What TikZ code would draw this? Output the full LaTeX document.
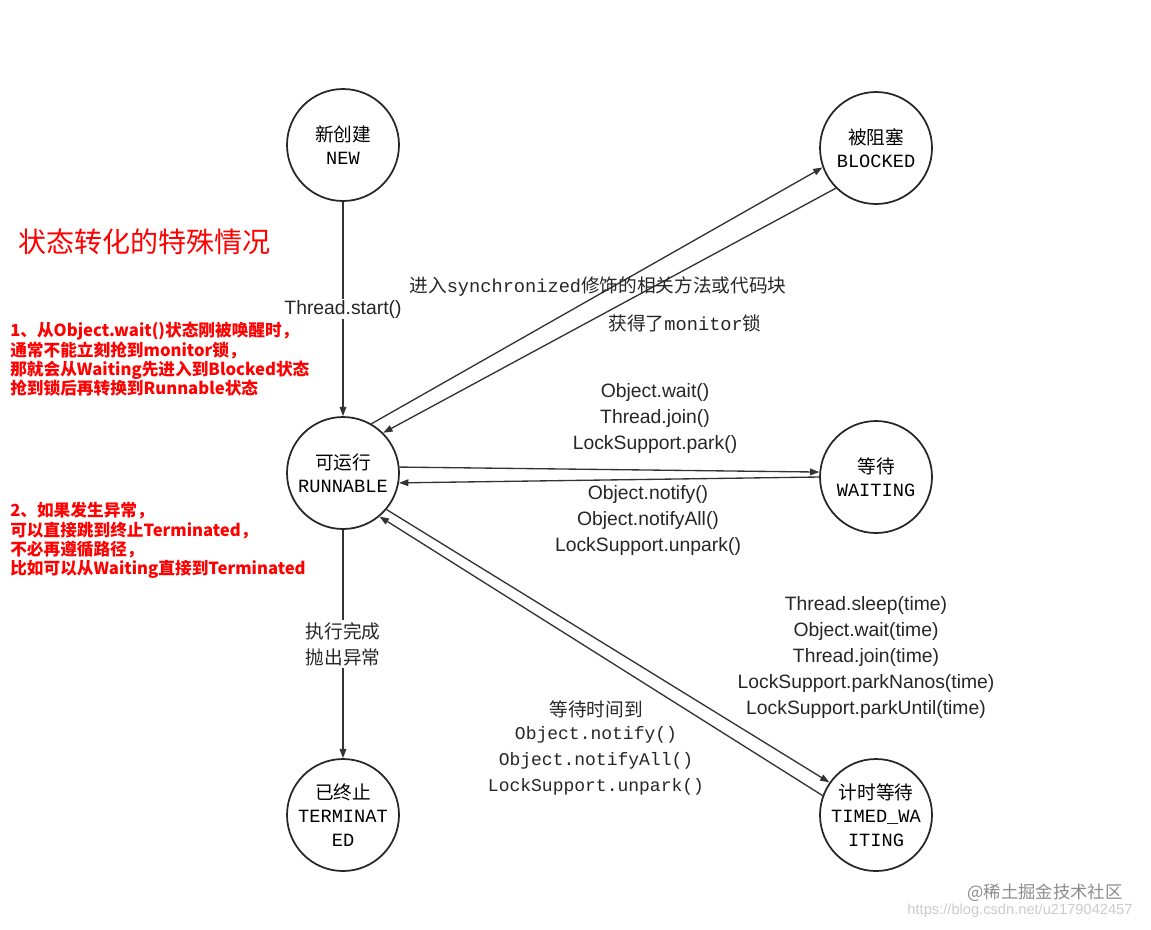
\documentclass[tikz,border=0pt]{standalone}
\usepackage{fontspec}
\setmainfont{Liberation Sans}
\newfontfamily\cjk{Noto Sans CJK SC}
\newfontfamily\mono{Liberation Mono}
\usetikzlibrary{arrows.meta}
\begin{document}
\begin{tikzpicture}[x=0.75pt,y=-0.75pt,
  st/.style={circle,draw=black!85,line width=1.3pt,minimum size=84pt,inner sep=0pt,align=center,font=\fontsize{14}{17.5}\selectfont},
  ar/.style={-{Triangle[length=7pt,width=5pt]},line width=1pt,black!80},
  lb/.style={font=\fontsize{14.5}{19.5}\selectfont,align=center,text=black!85},
  ml/.style={font=\mono\fontsize{13.5}{19.5}\selectfont,align=center,text=black!85},
  rd/.style={text=red,font=\cjk\bfseries\fontsize{12.5}{14.5}\selectfont,align=left,anchor=north west,inner sep=0pt}]
\useasboundingbox[fill=white] (0,0) rectangle (1151,929);
\node[st] (new) at (343,145) {{\cjk 新创建}\\{\mono NEW}};
\node[st] (blk) at (876,148) {{\cjk 被阻塞}\\{\mono BLOCKED}};
\node[st] (run) at (343,473) {{\cjk 可运行}\\{\mono RUNNABLE}};
\node[st] (wait) at (876,477) {{\cjk 等待}\\{\mono WAITING}};
\node[st] (term) at (343,815) {{\cjk 已终止}\\{\mono TERMINAT}\\{\mono ED}};
\node[st] (tw) at (876,815) {{\cjk 计时等待}\\{\mono TIMED\_WA}\\{\mono ITING}};
\draw[ar] (new) -- (run) node[pos=0.5,fill=white,lb,inner sep=1pt] {Thread.start()};
\draw[ar] (run.60) -- (blk.200);
\draw[ar] (blk.225) -- (run.45);
\node[lb,font=\cjk\fontsize{14}{16}\selectfont] at (598,287) {进入{\mono synchronized}修饰的相关方法或代码块};
\node[lb,font=\cjk\fontsize{14}{16}\selectfont] at (685,323) {获得了{\mono monitor}锁};
\draw[ar] (run.6) -- (wait.175);
\draw[ar] (wait.180) -- (run.350);
\node[lb] at (655,418) {Object.wait()\\Thread.join()\\LockSupport.park()};
\node[lb] at (648,520) {Object.notify()\\Object.notifyAll()\\LockSupport.unpark()};
\draw[ar] (run) -- (term) node[pos=0.5,fill=white,lb,font=\cjk\fontsize{14}{19.5}\selectfont,inner sep=2pt] {执行完成\\抛出异常};
\draw[ar] (run.-40) -- (tw.145);
\draw[ar] (tw.160) -- (run.-50);
\node[lb] at (866,657) {Thread.sleep(time)\\Object.wait(time)\\Thread.join(time)\\LockSupport.parkNanos(time)\\LockSupport.parkUntil(time)};
\node[lb,font=\cjk\fontsize{14}{19.5}\selectfont] at (596,709) {等待时间到};
\node[ml] at (596,761) {Object.notify()\\Object.notifyAll()\\LockSupport.unpark()};
\node[text=red,font=\cjk\fontsize{21}{24}\selectfont,anchor=west,inner sep=0pt] at (18,242) {状态转化的特殊情况};
\node[rd] at (10,322) {1、从Object.wait()状态刚被唤醒时，\\通常不能立刻抢到monitor锁，\\那就会从Waiting先进入到Blocked状态\\抢到锁后再转换到Runnable状态};
\node[rd] at (10,502) {2、如果发生异常，\\可以直接跳到终止Terminated，\\不必再遵循路径，\\比如可以从Waiting直接到Terminated};
\node[text=black!45,font=\cjk\fontsize{13}{15}\selectfont] at (1045,893) {@稀土掘金技术社区};
\node[text=black!20,font=\fontsize{11}{13}\selectfont] at (1020,911) {https://blog.csdn.net/u2179042457};
\end{tikzpicture}
\end{document}
